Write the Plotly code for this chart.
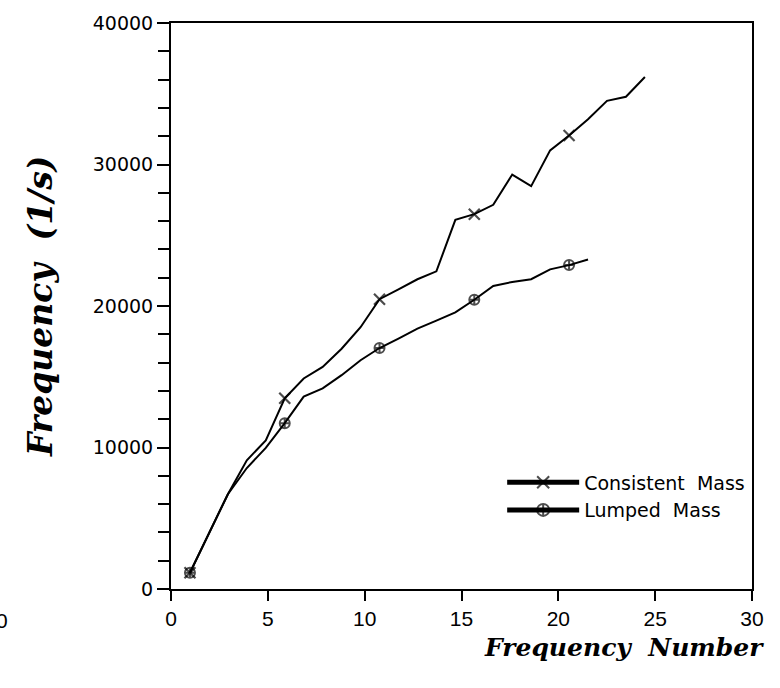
import plotly.graph_objects as go

# Natural frequencies of the beam model, consistent vs. lumped mass matrices
freq_number_consistent = list(range(1, 26))
freq_consistent = [1150, 3900, 6700, 9100, 10500, 13480, 14880, 15700, 16980, 18500,
                   20480, 21180, 21890, 22450, 26090, 26490, 27150, 29290, 28470, 31000,
                   32050, 33200, 34500, 34790, 36180]

freq_number_lumped = list(range(1, 23))
freq_lumped = [1150, 3900, 6700, 8550, 9970, 11720, 13600, 14180, 15110, 16170,
               17030, 17700, 18400, 18970, 19550, 20440, 21420, 21700, 21890, 22590,
               22890, 23290]

x_ticks = [0, 5, 10, 15, 20, 25, 30]
y_ticks = [0, 10000, 20000, 30000, 40000]

MARK_EVERY = 5
# the curves were plotted on a slightly shorter mode-number scale than the printed axis
DATA_X_RANGE = [0, 30.65]


def marker_sizes(numbers, size):
    # symbol only on every fifth mode, starting with the first
    return [size if (n - 1) % MARK_EVERY == 0 else 0 for n in numbers]


fig = go.Figure()
# empty trace so the printed axis frame (x / y) is laid out
fig.add_trace(go.Scatter(x=[], y=[], xaxis="x", yaxis="y", showlegend=False, hoverinfo="skip"))
fig.add_trace(go.Scatter(
    x=freq_number_consistent, y=freq_consistent, mode="lines+markers",
    name="Consistent  Mass", xaxis="x2", yaxis="y",
    line=dict(color="black", width=2),
    marker=dict(symbol="x-thin-open", size=marker_sizes(freq_number_consistent, 11),
                color="black", line=dict(color="black", width=2.2)),
))
fig.add_trace(go.Scatter(
    x=freq_number_lumped, y=freq_lumped, mode="lines+markers",
    name="Lumped  Mass", xaxis="x2", yaxis="y",
    line=dict(color="black", width=2),
    marker=dict(symbol="circle-cross-open", size=marker_sizes(freq_number_lumped, 10),
                color="black", line=dict(color="black", width=2)),
))

title_font = dict(family="DejaVu Serif", size=25, color="black", weight="bold", style="italic")
ytitle_font = dict(family="DejaVu Serif", size=33, color="black", weight="bold", style="italic")
xtick_font = dict(family="Liberation Sans Narrow, Liberation Sans", size=21, color="black")

fig.update_layout(
    width=780, height=688,
    margin=dict(l=171, r=28, t=15, b=99),
    paper_bgcolor="white", plot_bgcolor="white",
    showlegend=True,
    legend=dict(x=0.57, y=0.222, xanchor="left", yanchor="top",
                bgcolor="rgba(0,0,0,0)", itemsizing="constant", itemwidth=72,
                tracegroupgap=0,
                font=dict(family="DejaVu Sans", size=19, color="black")),
    xaxis=dict(
        range=[0, 30], tickvals=x_ticks, ticktext=[str(v) for v in x_ticks],
        ticks="outside", ticklen=10, tickwidth=2, tickcolor="black",
        showline=True, linecolor="black", linewidth=2, mirror=True,
        showgrid=False, zeroline=False, tickfont=xtick_font,
    ),
    xaxis2=dict(range=DATA_X_RANGE, overlaying="x", anchor="y", visible=False),
    yaxis=dict(
        range=[0, 40000], tickvals=y_ticks, ticktext=[str(v) for v in y_ticks],
        ticks="outside", ticklen=12, tickwidth=2, tickcolor="black",
        minor=dict(dtick=2000, ticks="outside", ticklen=11, tickwidth=1.5, tickcolor="black"),
        showline=True, linecolor="black", linewidth=2, mirror=True,
        showgrid=False, zeroline=False,
        tickfont=dict(family="DejaVu Sans", size=19, color="black"),
    ),
    annotations=[
        dict(text="Frequency  Number", xref="paper", yref="paper",
             x=0.78, y=-0.074, xanchor="center", yanchor="top",
             showarrow=False, font=title_font),
        dict(text="Frequency  (1/s)", xref="paper", yref="paper",
             x=-0.2255, y=0.5, xanchor="center", yanchor="middle", textangle=-90,
             showarrow=False, font=ytitle_font),
        # label left over from the neighbouring panel at the page edge
        dict(text="0", xref="paper", yref="paper", x=-0.3046, y=-0.032,
             xanchor="left", yanchor="top", showarrow=False, font=xtick_font),
    ],
)

fig.write_html("out.html")
